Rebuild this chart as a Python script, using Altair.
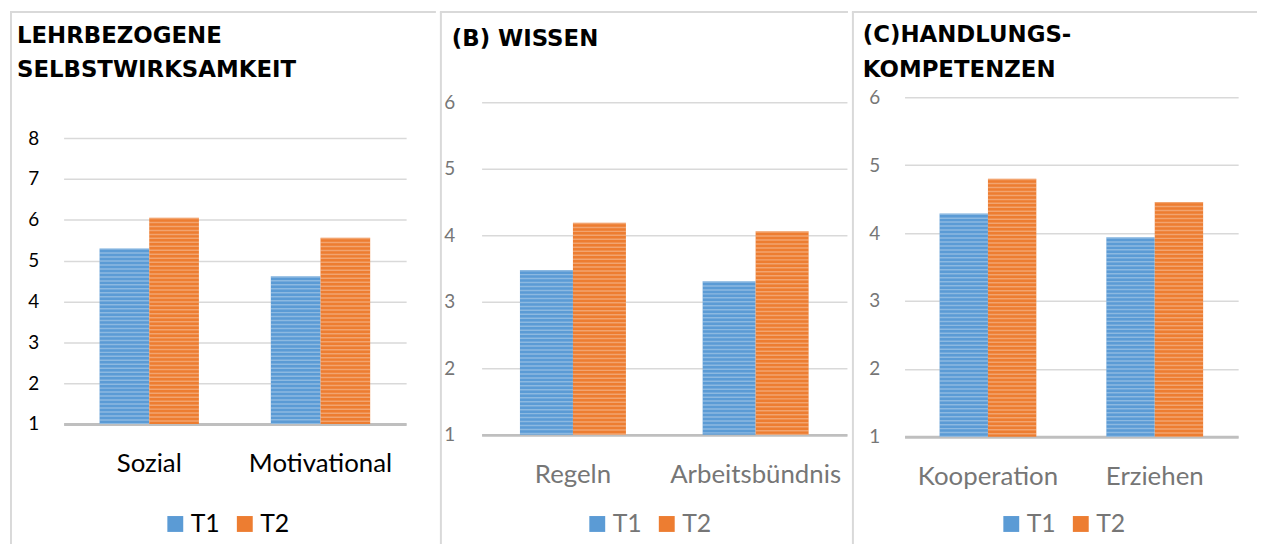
import altair as alt
import pandas as pd

series = ["T1", "T2"]
series_colors = ["#5b9bd5", "#ed7d31"]

title_a = "LEHRBEZOGENE\nSELBSTWIRKSAMKEIT"
cats_a = ["Sozial", "Motivational"]
t1_a = [5.30, 4.62]
t2_a = [6.05, 5.56]
ticks_a = [1, 2, 3, 4, 5, 6, 7, 8]

title_b = "(B) WISSEN"
cats_b = ["Regeln", "Arbeitsbündnis"]
t1_b = [3.48, 3.31]
t2_b = [4.19, 4.06]
ticks_b = [1, 2, 3, 4, 5, 6]

title_c = "(C)HANDLUNGS-\nKOMPETENZEN"
cats_c = ["Kooperation", "Erziehen"]
t1_c = [4.29, 3.94]
t2_c = [4.80, 4.46]
ticks_c = [1, 2, 3, 4, 5, 6]

FRAME = "#d9d9d9"


def panel(cats, t1, t2, title, ticks, dom_top, w, h, lab_color, ylab_pad,
          frame_left, frame_right, title_x, title_y, line_h, leg_x):
    df = pd.DataFrame({
        "cat": list(cats) * 2,
        "series": [series[0]] * len(cats) + [series[1]] * len(cats),
        "val": list(t1) + list(t2),
    })
    step = w / 2.0
    bar_w = step * 0.58 / 2.0
    xscale = alt.Scale(paddingInner=0.42, paddingOuter=0.21)
    xenc = alt.X("cat:N", sort=cats, scale=xscale,
                 axis=alt.Axis(title=None, labelAngle=0, domain=True, domainColor="#bfbfbf",
                               domainWidth=3, ticks=False, labelPadding=27, labelFontSize=26,
                               labelFont="Lato", labelColor=lab_color, grid=False, labelLimit=300))
    yenc = alt.Y("val:Q", scale=alt.Scale(domain=[1, dom_top], nice=False, zero=False),
                 axis=alt.Axis(title=None, values=ticks, format="d", grid=True, gridColor="#d9d9d9",
                               gridWidth=1.5, domain=False, ticks=False, labelPadding=ylab_pad,
                               labelFontSize=19, labelFont="Lato", labelColor=lab_color))
    bars = alt.Chart(df).mark_bar().encode(
        x=xenc,
        xOffset=alt.XOffset("series:N", sort=series),
        y=yenc,
        y2=alt.datum(1),
        color=alt.Color("series:N", sort=series,
                        scale=alt.Scale(domain=series, range=series_colors),
                        legend=alt.Legend(orient="none", legendX=leg_x, legendY=417,
                                          direction="horizontal", title=None, symbolType="square",
                                          symbolSize=256, symbolStrokeWidth=0, labelFontSize=25,
                                          labelFont="Lato", labelColor=lab_color,
                                          columnPadding=12, labelOffset=3, padding=0)),
    )
    stripes = alt.Chart(df).mark_rule(strokeWidth=bar_w, strokeDash=[1.5, 2.5], color="white",
                                      opacity=0.3).encode(
        x=alt.X("cat:N", sort=cats),
        xOffset=alt.XOffset("series:N", sort=series),
        y=alt.Y("val:Q"),
        y2=alt.datum(1),
    )
    fd = alt.Data(values=[{"k": 0}])
    left_line = alt.Chart(fd).mark_rule(color=FRAME, strokeWidth=2).encode(
        x=alt.value(frame_left), y=alt.value(-86), y2=alt.value(450))
    top_line = alt.Chart(fd).mark_rule(color=FRAME, strokeWidth=2).encode(
        x=alt.value(frame_left - 1), x2=alt.value(frame_right), y=alt.value(-86))
    title_mark = alt.Chart(fd).mark_text(align="left", baseline="alphabetic", font="DejaVu Sans",
                                         fontWeight="bold", fontSize=23, lineBreak="\n",
                                         lineHeight=line_h, color="black").encode(
        x=alt.value(title_x), y=alt.value(title_y), text=alt.value(title))
    return alt.layer(bars, stripes, left_line, top_line, title_mark).properties(width=w, height=h)


p1 = panel(cats_a, t1_a, t2_a, title_a, ticks_a, 9, 345, 329, "black", 25,
           -53, 375, -47, -55, 35, 100)
p2 = panel(cats_b, t1_b, t2_b, title_b, ticks_b, 6.075, 368, 340, "#767676", 27,
           -41, 369, -30, -52, 35, 104)
p3 = panel(cats_c, t1_c, t2_c, title_c, ticks_c, 6, 336, 342, "#767676", 25,
           -52, 355, -42, -56, 36, 95)

chart = (
    alt.hconcat(p1, p2, p3, spacing=0)
    .resolve_scale(color="independent", xOffset="independent")
    .configure(padding={"left": 0, "top": 0, "right": 0, "bottom": 0}, background="white")
    .configure_view(stroke="transparent")
)

chart.save("out.html", embed_options={"renderer": "svg", "actions": False})
